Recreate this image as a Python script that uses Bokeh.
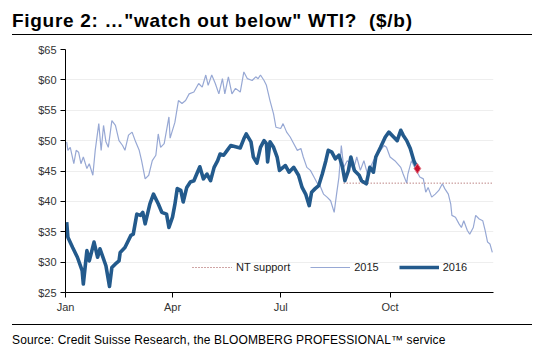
import html
from bokeh.plotting import figure
from bokeh.layouts import column
from bokeh.models import (FixedTicker, PrintfTickFormatter, Div,
                          Legend, LegendItem, Range1d)
from bokeh.embed import file_html
from bokeh.resources import INLINE

# ---------------- data (day of year, $/b) ----------------
days_2016 = [1, 2, 6, 10, 14, 15, 18, 20, 24, 27,
             29, 34, 37, 39, 42, 45, 46, 50, 55, 57,
             60, 63, 65, 67, 71, 74, 78, 81, 85, 87,
             90, 92, 94, 97, 99, 102, 105, 108, 111, 113,
             116, 119, 122, 125, 128, 130, 133, 136, 139, 143,
             147, 150, 152, 156, 158, 161, 164, 167, 169, 170,
             172, 175, 178, 180, 183, 185, 188, 192, 196, 199,
             202, 205, 207, 210, 213, 216, 219, 221, 224, 227,
             230, 233, 235, 238, 240, 243, 247, 249, 253, 256,
             259, 261, 265, 269, 272, 276, 279, 282, 284, 287,
             290, 293, 296]
wti_2016 = [36.6, 34.1, 32.4, 30.8, 28.6, 26.4, 31.9, 30.2, 33.3, 30.8,
            32.2, 29.4, 26.0, 29.1, 29.7, 30.2, 31.6, 32.4, 34.4, 34.6,
            37.9, 37.7, 38.2, 36.3, 39.6, 41.2, 39.6, 38.2, 37.9, 35.7,
            37.4, 39.5, 42.1, 41.8, 39.9, 42.3, 43.2, 43.4, 44.8, 45.7,
            43.7, 44.5, 43.4, 45.6, 46.7, 47.8, 47.6, 48.4, 49.2, 49.0,
            48.8, 50.3, 51.1, 49.8, 47.3, 46.3, 48.9, 50.0, 49.5, 46.5,
            49.8, 48.9, 47.3, 45.1, 45.6, 45.9, 44.8, 45.6, 44.3, 42.3,
            41.2, 39.3, 41.5, 42.1, 42.6, 44.5, 46.7, 48.4, 48.1, 47.0,
            47.6, 45.6, 43.4, 45.1, 47.3, 45.1, 44.3, 43.4, 42.9, 45.6,
            44.8, 47.3, 48.9, 50.6, 51.4, 50.6, 50.0, 51.7, 50.9, 50.0,
            48.7, 46.7, 45.4]

days_2015 = [1, 2, 4, 7, 9, 11, 13, 15, 18, 20,
             23, 25, 28, 30, 32, 34, 36, 39, 42, 45,
             48, 50, 53, 56, 59, 62, 64, 67, 70, 73,
             76, 78, 80, 83, 87, 88, 92, 95, 98, 101,
             104, 108, 112, 115, 118, 120, 123, 126, 129, 132,
             134, 137, 140, 143, 147, 150, 153, 157, 160, 162,
             164, 167, 169, 172, 175, 177, 181, 183, 186, 189,
             192, 195, 198, 200, 203, 206, 209, 212, 214, 217,
             220, 223, 226, 228, 230, 232, 234, 237, 240, 242,
             245, 248, 251, 254, 256, 259, 262, 265, 268, 270,
             273, 277, 282, 284, 287, 288, 291, 295, 298, 301,
             303, 305, 308, 311, 314, 317, 319, 322, 324, 325,
             328, 331, 333, 335, 338, 340, 343, 345, 348, 351,
             353, 355, 357, 359]
wti_2015 = [49.8, 48.4, 48.9, 46.2, 48.4, 48.1, 46.2, 47.3, 45.4, 46.2,
            44.3, 48.4, 52.8, 48.4, 52.5, 49.8, 48.9, 53.3, 52.5, 50.0,
            49.2, 48.4, 50.9, 51.4, 49.8, 48.4, 46.7, 43.7, 44.3, 46.7,
            47.6, 51.1, 48.9, 49.5, 53.9, 50.4, 53.0, 56.6, 56.1, 56.6,
            57.7, 58.0, 59.4, 58.8, 60.8, 59.1, 60.8, 59.4, 57.7, 60.2,
            57.7, 60.5, 57.7, 58.6, 58.0, 61.3, 60.2, 59.9, 60.5, 60.2,
            60.8, 59.9, 59.1, 56.6, 54.4, 52.2, 52.0, 52.8, 51.4, 50.6,
            49.5, 48.4, 48.7, 47.3, 45.6, 45.1, 44.0, 42.9, 42.6, 41.2,
            40.7, 40.1, 38.2, 41.2, 44.0, 49.2, 45.6, 46.7, 46.2, 45.1,
            47.3, 45.1, 46.7, 44.5, 45.4, 46.7, 47.6, 48.4, 49.2, 48.9,
            47.3, 46.7, 45.6, 44.5, 43.0, 44.5, 46.7, 45.1, 44.0, 43.7,
            41.5, 42.3, 40.7, 41.2, 41.8, 42.9, 42.1, 41.2, 39.6, 37.7,
            37.4, 36.3, 35.7, 36.8, 35.2, 34.6, 35.7, 37.7, 37.1, 36.8,
            35.2, 33.3, 33.0, 31.6]

nt_days = [234, 360]
nt_level = [43, 43]

x_tick_days = [0, 90, 181, 273]
x_tick_labels = ["Jan", "Apr", "Jul", "Oct"]
y_ticks = [25, 30, 35, 40, 45, 50, 55, 60, 65]

title_text = 'Figure 2: \u2026"watch out below" WTI?  ($/b)'
source_text = "Source: Credit Suisse Research, the BLOOMBERG PROFESSIONAL\u2122 service"

FONT = "Liberation Sans"
W = 559

# ---------------- header (title + rule) ----------------
head_html = (
    '<div style="margin:0 0 0 12px;padding:0;width:520px;height:34px;'
    'border-bottom:1px solid #000;box-sizing:content-box;color:#000;'
    "font-family:'Liberation Sans',Arial,sans-serif;font-weight:bold;"
    'font-size:19px;letter-spacing:0.7px;line-height:19px;white-space:pre;">'
    '<div style="padding-top:11px;">' + html.escape(title_text, quote=False) +
    '</div></div>'
)
head = Div(text=head_html, width=W, height=35, margin=0)

# ---------------- main chart ----------------
p = figure(width=W, height=289, output_backend="svg", toolbar_location=None,
           x_range=Range1d(0, 360), y_range=Range1d(25, 65),
           min_border_left=65, min_border_right=66,
           min_border_top=14, min_border_bottom=32, margin=0)
p.outline_line_color = None
p.background_fill_color = "white"
p.border_fill_color = "white"

p.xgrid.grid_line_color = None
p.ygrid.grid_line_color = "#eeeeee"

p.yaxis.ticker = FixedTicker(ticks=y_ticks)
p.yaxis.formatter = PrintfTickFormatter(format="$%d")
p.xaxis.ticker = FixedTicker(ticks=x_tick_days)
p.xaxis.major_label_overrides = dict(zip(x_tick_days, x_tick_labels))

for ax in (p.xaxis[0], p.yaxis[0]):
    ax.axis_line_color = "black"
    ax.axis_line_width = 1
    ax.major_tick_line_color = "black"
    ax.major_tick_in = 0
    ax.major_tick_out = 5
    ax.minor_tick_line_color = None
    ax.major_label_text_font = FONT
    ax.major_label_text_font_size = "11px"
    ax.major_label_text_color = "#333333"
p.yaxis.major_label_standoff = 4
p.xaxis.major_label_standoff = 3

r15 = p.line(days_2015, wti_2015, line_color="#97a8d4", line_width=1.2)
rnt = p.line(nt_days, nt_level, line_color="#9e4b4b", line_width=1, line_dash="1 2")
r16 = p.line(days_2016, wti_2016, line_color="#235a8c", line_width=3.6,
             line_join="round")
p.scatter([days_2016[-1]], [wti_2016[-1]], marker="diamond", size=10,
          fill_color="#c8102e", line_color="#e07080")

legend = Legend(items=[LegendItem(label="NT support", renderers=[rnt]),
                       LegendItem(label="2015", renderers=[r15]),
                       LegendItem(label="2016", renderers=[r16])],
                orientation="horizontal", location=(127, 19),
                glyph_width=40, glyph_height=12, label_height=12,
                label_standoff=4, spacing=20, padding=0, margin=0,
                border_line_color=None, background_fill_alpha=0,
                label_text_font=FONT, label_text_font_size="11px",
                label_text_color="#222222")
p.add_layout(legend)

# ---------------- footer (rule + source) ----------------
foot_html = (
    '<div style="margin:0 0 0 12px;padding:8px 0 0 0;width:520px;'
    'border-top:1px solid #000;color:#000;'
    "font-family:'Liberation Sans',Arial,sans-serif;font-size:12px;"
    'letter-spacing:0.13px;line-height:14px;white-space:nowrap;">'
    + html.escape(source_text, quote=False) + '</div>'
)
foot = Div(text=foot_html, width=W, height=29, margin=0)

layout = column(head, p, foot, spacing=0)
open("out.html", "w").write(file_html(layout, INLINE))
